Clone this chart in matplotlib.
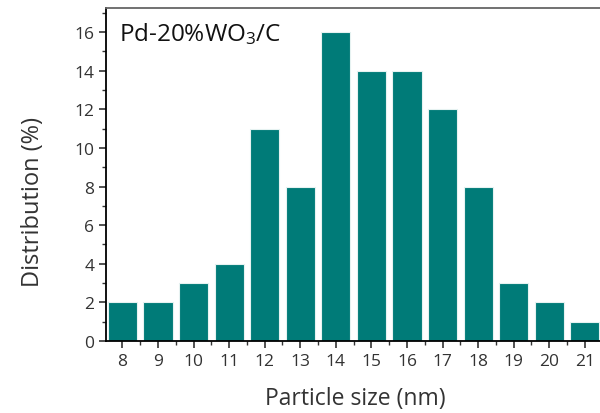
import matplotlib.pyplot as plt
from matplotlib.ticker import MultipleLocator

sizes = [8, 9, 10, 11, 12, 13, 14, 15, 16, 17, 18, 19, 20, 21]
distribution = [2, 2, 3, 4, 11, 8, 16, 14, 14, 12, 8, 3, 2, 1]


def main():
    plt.rcParams['font.family'] = ['Open Sans', 'DejaVu Sans']
    plt.rcParams['mathtext.fontset'] = 'custom'
    plt.rcParams['mathtext.rm'] = 'Open Sans'
    plt.rcParams['mathtext.it'] = 'Open Sans'
    fig = plt.figure(figsize=(6, 4.14), dpi=100)
    ax = fig.add_axes([0.1767, 0.174, 0.83, 0.804])

    ax.bar(sizes, distribution, width=0.82, color="#007b78",
           edgecolor="#e6f2f1", linewidth=0.8)

    ax.set_xlim(7.54, 21.54)
    ax.set_ylim(0, 17.24)
    ax.set_xticks(sizes)
    ax.xaxis.set_minor_locator(MultipleLocator(0.5))
    ax.yaxis.set_major_locator(MultipleLocator(2))
    ax.yaxis.set_minor_locator(MultipleLocator(1))
    ax.tick_params(which="major", direction="out", length=5, width=1.2,
                   labelsize=12.5, labelcolor="#333333", color="#333333")
    ax.tick_params(which="minor", direction="out", length=3, width=1.0, color="#333333")
    ax.spines["right"].set_visible(False)
    ax.spines["left"].set_linewidth(1.3)
    ax.spines["bottom"].set_linewidth(1.3)
    ax.spines["top"].set_linewidth(1.3)
    ax.spines["top"].set_color("#666666")

    ax.set_xlabel("Particle size (nm)", fontsize=16.5, color="#333333")
    ax.set_ylabel("Distribution (%)", fontsize=17, color="#333333")
    ax.xaxis.set_label_coords(0.5, -0.135)
    ax.yaxis.set_label_coords(-0.123, 0.42)
    ax.text(0.027, 0.925, "Pd-20%WO$_\\mathrm{3}$/C", transform=ax.transAxes,
            fontsize=17.5, color="#111111", va="center")

    fig.savefig("out.png", dpi=100)


if __name__ == "__main__":
    main()
